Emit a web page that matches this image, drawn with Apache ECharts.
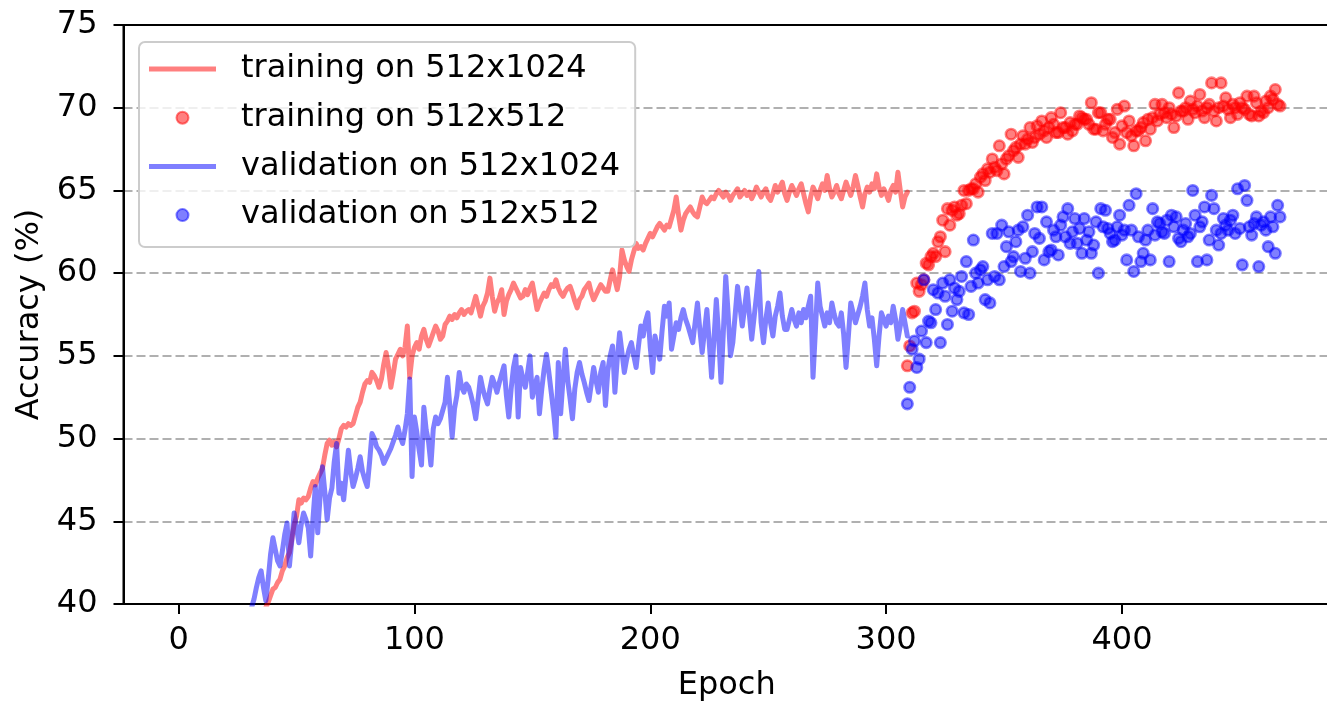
<!DOCTYPE html>
<html>
<head>
<meta charset="utf-8">
<script src="https://cdn.jsdelivr.net/npm/echarts@6/dist/echarts.min.js"></script>
<style>
html,body{margin:0;padding:0;background:#fff;}
#chart{width:1327px;height:701px;}
</style>
</head>
<body>
<div id="chart"></div>
<script>
// ---------------- data ----------------
const seriesNames = ['training on 512x1024', 'training on 512x512', 'validation on 512x1024', 'validation on 512x512'];
const xTickValues = [0, 100, 200, 300, 400];
const yTickValues = [40, 45, 50, 55, 60, 65, 70, 75];

// training accuracy on 512x1024, one value per epoch starting at epoch 30
const trainLineStart = 30;
const trainLine = [
  37.0, 37.4, 37.8, 38.2, 38.6, 39.0, 39.4, 39.8, 40.1, 40.5,
  40.9, 41.0, 41.3, 41.5, 42.0, 42.3, 42.8, 43.1, 43.9, 44.8,
  45.3, 46.3, 46.1, 46.4, 46.3, 46.5, 47.0, 47.4, 47.2, 47.6,
  47.9, 48.2, 49.0, 49.7, 49.9, 49.6, 49.8, 49.5, 50.0, 50.6,
  50.8, 50.7, 50.9, 50.8, 50.9, 51.4, 51.9, 52.2, 52.8, 53.3,
  53.5, 53.4, 54.0, 53.8, 53.5, 53.1, 53.6, 54.5, 55.2, 54.3,
  53.1, 53.9, 54.8, 55.1, 55.4, 55.0, 55.5, 56.8, 53.7, 55.0,
  55.5, 55.8, 55.4, 56.2, 56.6, 56.0, 55.6, 56.0, 56.4, 56.8,
  56.5, 56.0, 56.2, 56.9, 57.1, 57.4, 57.2, 57.5, 57.3, 57.6,
  57.8, 57.5, 57.7, 57.8, 57.6, 58.1, 58.6, 58.0, 57.4, 58.0,
  58.3, 58.8, 59.7, 58.6, 57.7, 58.2, 58.5, 59.0, 57.5, 58.3,
  58.7, 59.0, 59.4, 59.1, 58.8, 58.5, 58.6, 59.0, 58.7, 59.1,
  59.4, 58.6, 57.8, 58.2, 58.5, 58.8, 58.6, 59.0, 59.3, 59.2,
  59.6, 59.1, 58.8, 58.6, 58.9, 59.1, 59.2, 58.8, 58.3, 57.9,
  58.4, 58.6, 59.0, 59.2, 59.4, 58.8, 58.4, 58.7, 59.0, 59.3,
  59.1, 58.9, 58.9, 59.6, 60.2, 59.6, 59.0, 59.8, 61.4, 60.8,
  60.4, 60.1, 60.8, 61.3, 61.8, 61.5, 61.6, 61.4, 61.8, 62.1,
  62.4, 62.2, 62.5, 62.8, 63.0, 62.8, 62.6, 62.9, 62.8, 63.3,
  63.8, 64.6, 63.5, 62.6, 63.2, 63.6, 63.8, 64.0, 63.7, 63.5,
  63.4, 64.0, 64.6, 64.3, 64.2, 64.4, 64.6, 64.5, 64.8, 65.0,
  64.8, 64.6, 64.9, 64.7, 64.4, 64.7, 64.9, 65.1, 64.6, 64.8,
  65.0, 64.7, 64.9, 64.5, 64.8, 65.2, 64.9, 64.6, 64.9, 65.1,
  64.6, 64.4, 64.8, 65.3, 64.9, 65.2, 65.5, 64.8, 64.4, 64.9,
  65.3, 65.0, 64.7, 65.1, 65.4, 64.8, 64.2, 63.7, 64.6, 65.2,
  64.9, 64.5, 65.0, 65.4, 65.0, 65.9, 65.1, 64.6, 64.9, 65.3,
  64.8, 64.5, 65.0, 65.5, 65.1, 64.7, 65.2, 65.9, 65.3, 64.6,
  64.0, 64.8, 65.2, 64.9, 65.4, 65.1, 66.0, 65.2, 64.7, 65.1,
  64.8, 64.4, 65.0, 65.3, 64.9, 66.1, 65.0, 64.0, 64.6, 64.9
];

// validation accuracy on 512x1024, one value per epoch starting at epoch 30
const valLineStart = 30;
const valLine = [
  39.3, 39.8, 40.3, 41.0, 41.6, 42.0, 41.0, 40.2, 41.5, 43.0,
  44.0, 43.3, 42.6, 42.3, 43.2, 44.2, 44.9, 42.3, 43.8, 45.5,
  44.6, 43.7, 44.8, 45.5, 45.1, 44.6, 42.9, 45.2, 47.1, 44.3,
  46.5, 48.3, 46.8, 45.1, 46.4, 47.0, 48.6, 49.7, 46.7, 47.3,
  46.3, 47.8, 49.3, 48.0, 47.1, 47.6, 48.2, 48.9, 48.0, 47.5,
  47.1, 48.6, 50.3, 50.0, 49.5, 49.3, 49.0, 48.5, 48.8, 49.1,
  49.4, 49.8, 50.2, 50.7, 50.1, 49.7, 50.5, 51.5, 53.6, 47.7,
  51.3, 50.4, 49.3, 48.4, 51.9, 50.5, 49.8, 48.4, 50.6, 51.3,
  50.9, 51.2, 51.7, 52.2, 53.7, 52.0, 50.1, 51.8, 52.6, 54.0,
  53.1, 52.8, 53.3, 53.1, 52.6, 52.0, 51.2, 52.4, 53.7, 53.0,
  52.5, 52.1, 53.0, 53.7, 53.3, 52.8, 53.4, 53.9, 54.4, 52.6,
  51.3, 53.0, 54.3, 55.0, 51.3, 54.3, 53.6, 53.1, 54.0, 55.0,
  52.5, 53.2, 53.7, 51.5, 53.0, 54.2, 55.1, 54.0, 52.8, 51.6,
  50.1, 54.6, 51.5, 53.6, 55.4, 53.5, 52.4, 51.2, 53.0, 54.0,
  54.6, 53.9, 53.4, 52.8, 52.3, 53.3, 54.3, 53.5, 52.8, 54.0,
  54.6, 52.0, 54.1, 55.0, 55.6, 52.8, 54.8, 56.4, 55.2, 54.0,
  54.8, 55.4, 55.8, 55.0, 54.3, 55.6, 56.8, 56.2, 57.1, 57.6,
  55.5, 54.0, 56.2, 55.5, 54.8, 56.5, 58.0, 57.4, 58.2, 55.4,
  56.2, 57.0, 56.6, 57.3, 57.8, 57.2, 56.8, 56.3, 55.8, 57.0,
  58.2, 56.6, 55.2, 56.5, 57.8, 55.8, 53.7, 56.0, 58.4, 56.2,
  53.4, 56.5, 59.8, 57.6, 55.0, 55.8, 57.5, 59.2, 58.0, 56.8,
  57.9, 59.1, 57.5, 56.0, 57.3, 58.6, 60.1, 57.0, 55.8, 57.2,
  58.2, 57.0, 56.2, 57.4, 58.0, 58.8, 57.4, 56.6, 56.6, 57.2,
  57.8, 57.2, 56.8, 57.6, 57.0, 57.8, 57.3, 58.0, 58.6, 53.7,
  56.5, 59.4, 58.0, 57.4, 56.8, 57.6, 57.0, 58.2, 57.5, 57.0,
  56.8, 57.6, 56.3, 54.3, 56.2, 58.2, 57.6, 57.0, 57.5, 58.0,
  58.6, 59.4, 57.8, 56.8, 57.3, 56.0, 54.4, 56.2, 57.6, 57.2,
  56.8, 57.4, 57.0, 58.0, 57.2, 56.0, 56.8, 57.8, 57.0, 56.2
];

// scatter runs on 512x512, one value per epoch starting at epoch 309
const scatterStart = 309;
const trainScatter = [
  54.4, 55.6, 57.6, 57.7, 59.4, 58.9, 59.3, 59.6, 60.6, 60.5,
  61.0, 61.2, 61.0, 61.9, 62.2, 63.2, 61.3, 63.9, 62.9, 63.8,
  64.0, 63.5, 63.6, 64.1, 65.0, 64.2, 65.0, 65.1, 65.1, 65.4,
  64.9, 65.8, 66.0, 65.6, 66.3, 66.1, 66.9, 66.4, 66.2, 67.7,
  66.6, 66.0, 66.9, 67.1, 68.4, 67.4, 67.6, 67.0, 67.8, 68.3,
  67.8, 68.1, 68.8, 67.9, 68.2, 68.9, 68.4, 69.2, 68.6, 68.2,
  68.8, 69.4, 69.0, 68.5, 68.5, 69.7, 68.8, 68.8, 68.4, 69.1,
  68.6, 69.0, 69.0, 69.5, 69.4, 69.3, 69.3, 69.0, 70.3, 68.7,
  68.7, 69.7, 69.7, 68.6, 69.0, 69.3, 69.3, 68.2, 68.5, 69.9,
  67.8, 68.9, 70.1, 68.5, 69.2, 68.3, 67.7, 68.6, 68.6, 68.8,
  69.1, 68.0, 69.3, 68.7, 69.4, 70.2, 69.2, 69.6, 70.2, 69.7,
  69.4, 70.0, 69.6, 68.8, 69.5, 70.9, 69.8, 69.8, 70.0, 69.3,
  70.4, 69.9, 69.7, 70.1, 70.8, 69.8, 69.4, 70.0, 70.2, 71.5,
  69.8, 69.2, 70.0, 71.5, 70.1, 70.6, 69.9, 69.4, 70.2, 70.0,
  69.6, 70.3, 70.0, 69.9, 70.7, 69.6, 69.5, 70.7, 70.3, 69.5,
  69.8, 69.7, 70.4, 70.0, 70.7, 70.5, 71.1, 70.2, 70.1
];
const valScatter = [
  52.1, 53.1, 55.4, 55.9, 54.3, 54.8, 56.5, 59.6, 55.8, 57.1,
  57.0, 59.0, 57.8, 58.8, 55.8, 59.4, 58.6, 56.9, 59.6, 57.7,
  59.1, 58.4, 58.9, 59.8, 57.6, 60.7, 57.5, 59.2, 62.0, 60.0,
  59.4, 60.2, 60.4, 58.4, 59.6, 58.2, 62.4, 59.8, 62.4, 59.6,
  62.9, 60.4, 61.6, 62.5, 60.7, 61.0, 61.9, 62.6, 60.1, 62.8,
  60.9, 63.5, 60.0, 61.3, 62.4, 64.0, 62.1, 64.0, 60.8, 63.1,
  61.3, 61.4, 62.6, 62.2, 61.1, 62.9, 63.4, 62.2, 63.9, 61.8,
  62.5, 63.3, 61.8, 62.7, 61.2, 63.3, 62.0, 62.5, 61.2, 61.7,
  63.1, 60.0, 63.9, 62.8, 63.8, 62.7, 62.4, 61.9, 62.0, 62.8,
  63.5, 62.3, 62.6, 60.8, 64.1, 62.6, 60.1, 64.8, 62.2, 60.7,
  61.2, 62.0, 62.6, 60.8, 63.9, 62.3, 63.1, 63.0, 62.5, 62.4,
  63.2, 60.7, 63.5, 62.8, 63.4, 62.1, 61.9, 62.6, 63.0, 62.2,
  62.4, 65.0, 63.5, 60.7, 62.8, 63.1, 64.0, 60.8, 62.0, 64.7,
  63.9, 62.6, 61.7, 62.4, 63.3, 62.9, 62.6, 63.2, 63.5, 62.4,
  65.1, 62.7, 60.5, 65.3, 64.4, 62.8, 62.3, 63.0, 63.4, 60.4,
  62.9, 63.1, 62.6, 61.6, 63.4, 62.8, 61.2, 64.1, 63.4
];

// ---------------- chart ----------------
const FONT = 'DejaVu Sans';
const FS = 32;
const RED = 'rgba(255,0,0,0.5)';
const BLUE = 'rgba(0,0,255,0.5)';
const toPairs = (start, vals) => vals.map((v, i) => [start + i, v]);

const chart = echarts.init(document.getElementById('chart'), null, {renderer: 'canvas'});

const option = {
  animation: false,
  backgroundColor: '#ffffff',
  grid: {
    left: 123.5, right: -3, top: 25, bottom: 97,
    outerBoundsMode: 'none', containLabel: false,
    show: true, borderColor: '#000', borderWidth: 2, backgroundColor: 'transparent'
  },
  legend: {
    orient: 'vertical',
    left: 139, top: 42,
    itemWidth: 67, itemHeight: 12, itemGap: 12.7,
    padding: [9, 15, 14, 10],
    backgroundColor: 'rgba(255,255,255,0.8)',
    borderColor: '#cccccc', borderWidth: 2, borderRadius: 6,
    textStyle: {fontFamily: FONT, fontSize: FS, color: '#000', lineHeight: 36, padding: [0, 0, 0, 20]},
    data: [
      {name: seriesNames[0], icon: 'path://M0,0H67V5H0Z'},
      {name: seriesNames[1], icon: 'circle'},
      {name: seriesNames[2], icon: 'path://M0,0H67V5H0Z'},
      {name: seriesNames[3], icon: 'circle'}
    ],
    selectedMode: false
  },
  xAxis: {
    type: 'value',
    min: -23.35, max: 488.2,
    name: 'Epoch', nameLocation: 'middle', nameGap: 66,
    nameTextStyle: {fontFamily: FONT, fontSize: FS, color: '#000'},
    axisLine: {show: true, onZero: false, lineStyle: {color: '#000', width: 2}},
    axisTick: {show: true, customValues: xTickValues, length: 10, lineStyle: {color: '#000', width: 2}},
    axisLabel: {customValues: xTickValues, margin: 21, fontFamily: FONT, fontSize: FS, color: '#000'},
    splitLine: {show: false}
  },
  yAxis: {
    type: 'value',
    min: 40, max: 75, interval: 5,
    name: 'Accuracy (%)', nameLocation: 'middle', nameGap: 76, nameRotate: 90,
    nameTextStyle: {fontFamily: FONT, fontSize: FS, color: '#000'},
    axisLine: {show: true, onZero: false, lineStyle: {color: '#000', width: 2}},
    axisTick: {show: true, customValues: yTickValues, length: 10, lineStyle: {color: '#000', width: 2}},
    axisLabel: {customValues: yTickValues, margin: 26, fontFamily: FONT, fontSize: FS, color: '#000'},
    splitLine: {show: true, showMinLine: false, showMaxLine: false,
      lineStyle: {color: '#b0b0b0', width: 2, type: [9, 4]}}
  },
  series: [
    {
      name: seriesNames[0], type: 'line', data: toPairs(trainLineStart, trainLine),
      symbol: 'none', showSymbol: false, clip: true, z: 2,
      lineStyle: {color: RED, width: 5, join: 'round', cap: 'round'},
      itemStyle: {color: RED}
    },
    {
      name: seriesNames[1], type: 'scatter', data: toPairs(scatterStart, trainScatter),
      symbol: 'circle', symbolSize: 10.5, clip: true, z: 3,
      itemStyle: {color: RED, borderColor: RED, borderWidth: 2.6, opacity: 1}
    },
    {
      name: seriesNames[2], type: 'line', data: toPairs(valLineStart, valLine),
      symbol: 'none', showSymbol: false, clip: true, z: 4,
      lineStyle: {color: BLUE, width: 5, join: 'round', cap: 'round'},
      itemStyle: {color: BLUE}
    },
    {
      name: seriesNames[3], type: 'scatter', data: toPairs(scatterStart, valScatter),
      symbol: 'circle', symbolSize: 10.5, clip: true, z: 5,
      itemStyle: {color: BLUE, borderColor: BLUE, borderWidth: 2.6, opacity: 1}
    }
  ]
};
chart.setOption(option);
</script>
</body>
</html>
